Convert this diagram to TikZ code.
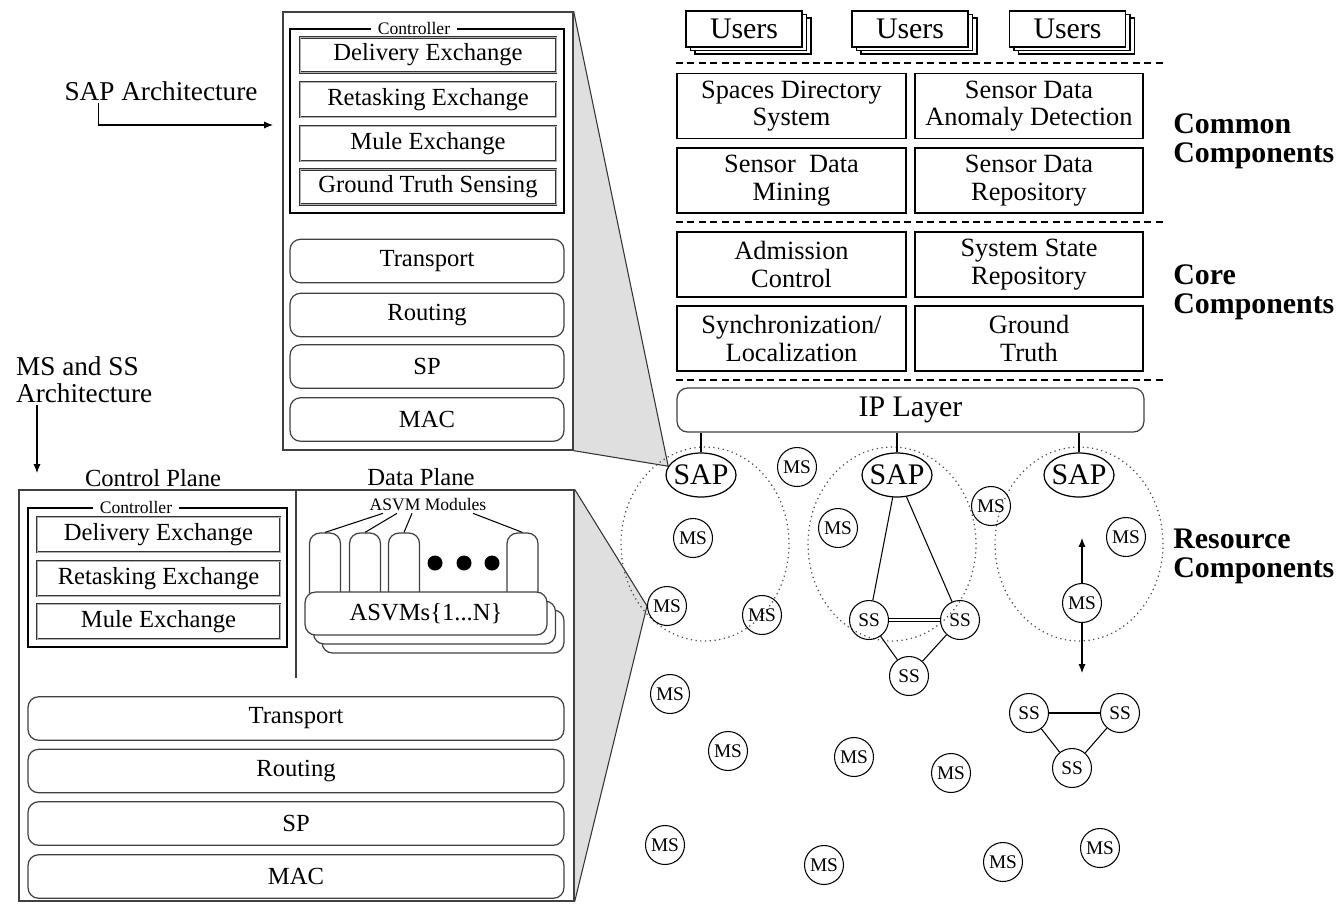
\documentclass[tikz,border=0pt]{standalone}
\usepackage{fontspec}
\setmainfont{Liberation Serif}
\usepackage{tikz}
\usetikzlibrary{shapes.geometric, arrows.meta, shadows, backgrounds, calc}

\begin{document}
\begin{tikzpicture}[x=0.02cm, y=-0.02cm,
    frame/.style={rectangle, draw=black!75, line width=0.8pt},
    ctrl/.style={rectangle, draw=black, line width=0.9pt},
    tag/.style={fill=white, inner xsep=4pt, inner ysep=1pt,
                font=\fontsize{10}{10}\selectfont},
    xbox/.style={rectangle, draw=black!80, line width=0.5pt, double=black!30,
                 double distance=0.5pt, minimum height=0.7cm,
                 font=\fontsize{14}{14}\selectfont},
    layer/.style={rectangle, rounded corners=6pt, draw=black!75, line width=0.7pt,
                  minimum height=0.87cm, font=\fontsize{14}{14}\selectfont},
    module/.style={rectangle, rounded corners=6pt, draw=black!75, line width=0.7pt,
                   fill=white, minimum width=0.62cm, minimum height=1.4cm},
    stack/.style={rectangle, rounded corners=6pt, draw=black!75, line width=0.7pt,
                  fill=white, font=\fontsize{14}{14}\selectfont,
                  copy shadow={shadow xshift=0.34cm, shadow yshift=-0.36cm},
                  copy shadow={shadow xshift=0.17cm, shadow yshift=-0.18cm}},
    lbl/.style={font=\fontsize{15.5}{15.5}\selectfont, inner sep=1pt},
    comp/.style={rectangle, draw=black, line width=0.8pt, minimum height=1.3cm,
                 align=center, font=\fontsize{15}{15.5}\selectfont, inner sep=1pt},
    users/.style={rectangle, draw=black, line width=0.7pt, fill=white,
                  minimum width=2.32cm, minimum height=0.72cm,
                  font=\fontsize{17}{17}\selectfont,
                  copy shadow={shadow xshift=0.18cm, shadow yshift=-0.14cm},
                  copy shadow={shadow xshift=0.09cm, shadow yshift=-0.07cm}},
    grp/.style={anchor=west, align=left, inner sep=0pt,
                font=\fontsize{17}{16.5}\selectfont\bfseries},
    sapn/.style={ellipse, draw=black, line width=0.7pt, minimum width=1.4cm,
                 minimum height=0.88cm, inner xsep=-2pt, inner ysep=0pt,
                 font=\fontsize{17}{17}\selectfont},
    msn/.style={circle, draw=black, line width=0.6pt, minimum size=0.78cm,
                inner sep=0pt, font=\fontsize{11}{11}\selectfont},
    zone/.style={ellipse, draw=black!70, dotted, line width=0.7pt,
                 minimum width=3.36cm, minimum height=3.88cm},
    arr/.style={-{Latex[length=5pt, width=4pt]}, line width=0.6pt},
    wedge/.style={fill=gray!25, draw=black!80, line width=0.6pt}
  ]
  \useasboundingbox (0,0) rectangle (1344,903);

  % SAP architecture stack
  \node[frame, minimum width=5.8cm, minimum height=8.76cm] (sapbox) at (428,231) {};
  \node[ctrl, minimum width=5.48cm, minimum height=3.68cm] (sapctrl) at (427,121) {};
  \node[tag] (sapctrltag) at ([xshift=-0.26cm]sapctrl.north) {Controller};
  \foreach \i/\y/\t in {1/55/Delivery Exchange, 2/99.5/Retasking Exchange,
                        3/143.5/Mule Exchange, 4/187/Ground Truth Sensing} {
    \node[xbox, minimum width=5.12cm] (sapx\i) at (428,\y) {\t};
  }
  \foreach \i/\y/\t in {1/261/Transport, 2/315/Routing, 3/366.5/SP, 4/419.5/MAC} {
    \node[layer, minimum width=5.48cm] (sapl\i) at (427,\y) {\t};
  }
  \node[lbl] (saplbl) at (161,91) {SAP Architecture};
  \coordinate (saptip) at (273,125);
  \draw[arr] ([xshift=0.72cm]saplbl.south west) |- (saptip);

  % MS and SS architecture stack
  \node[lbl, align=left, anchor=west] (mslbl) at (14,380) {MS and SS\\Architecture};
  \coordinate (mstip) at (37,473);
  \draw[arr] (mstip |- mslbl.south) -- (mstip);
  \node[lbl, font=\fontsize{14}{14}\selectfont] (cplbl) at (153,478) {Control Plane};
  \node[lbl, font=\fontsize{14}{14}\selectfont] (dplbl) at (421,477) {Data Plane};
  \node[frame, minimum width=11.1cm, minimum height=8.22cm] (msbox) at (296.5,695.5) {};
  \draw[black!75, line width=0.8pt] (296,490) -- (296,678);
  \node[ctrl, minimum width=5.18cm, minimum height=2.78cm] (msctrl) at (157.5,577.5) {};
  \node[tag] (msctrltag) at ([xshift=-0.43cm]msctrl.north) {Controller};
  \foreach \i/\y/\t in {1/534.5/Delivery Exchange, 2/578.5/Retasking Exchange,
                        3/621.5/Mule Exchange} {
    \node[xbox, minimum width=4.86cm] (msx\i) at (158.5,\y) {\t};
  }
  % Data plane modules
  \foreach \i/\x in {1/325, 2/365, 3/404, 4/522.5} {
    \node[module] (mod\i) at (\x,568) {};
  }
  \node[lbl, font=\fontsize{10}{10}\selectfont] (asvm) at (428,505) {ASVM Modules};
  \foreach \i/\dx in {1/-45, 2/-31, 3/-16, 4/45} {
    \draw[line width=0.6pt] (asvm.south) ++(\dx,0) -- (mod\i.north);
  }
  \foreach \x in {435, 464, 492} {
    \fill (\x,563) circle (0.15cm);
  }
  \node[stack, minimum width=4.84cm, minimum height=0.86cm] (asvms) at (426,613.5) {ASVMs\{1...N\}};
  \foreach \i/\y/\t in {1/718.5/Transport, 2/771/Routing, 3/823.5/SP, 4/876.5/MAC} {
    \node[layer, minimum width=10.72cm] (msl\i) at (296,\y) {\t};
  }

  % Users
  \foreach \i/\x in {1/744, 2/910, 3/1067.5} {
    \node[users] (users\i) at (\x,29) {Users};
  }
  \foreach \y in {63, 222, 380} {
    \draw[dash pattern=on 4pt off 2.5pt, line width=0.6pt] (676,\y) -- (1163,\y);
  }
  % Common components
  \node[comp, minimum width=4.58cm] (sds) at (791.5,106) {Spaces Directory\\System};
  \node[comp, minimum width=4.56cm] (sdad) at (1029,106) {Sensor Data\\Anomaly Detection};
  \node[comp, minimum width=4.58cm] (sdm) at (791.5,180.5) {Sensor~ Data\\Mining};
  \node[comp, minimum width=4.56cm] (sdr) at (1029,180.5) {Sensor Data\\Repository};
  % Core components
  \node[comp, minimum width=4.58cm] (adm) at (791.5,264.5) {Admission\\Control};
  \node[comp, minimum width=4.56cm] (ssr) at (1029,264.5) {System State\\Repository};
  \node[comp, minimum width=4.58cm] (sync) at (791.5,338.5) {Synchronization/\\Localization};
  \node[comp, minimum width=4.56cm] (gt) at (1029,338.5) {Ground\\Truth};
  \node[layer, minimum width=9.34cm, minimum height=0.88cm,
        font=\fontsize{17}{17}\selectfont] (iplayer) at (910.5,410) {IP Layer};
  \node[grp] (common) at (1173,141) {Common\\Components};
  \node[grp] (core) at (1173,292.5) {Core\\Components};
  \node[grp] (resource) at (1173,556.5) {Resource\\Components};

  % Resource components
  \foreach \i/\x in {1/705, 2/892, 3/1079} {
    \node[zone] (zone\i) at (\x,544) {};
  }
  \foreach \i/\x in {1/701, 2/897, 3/1079} {
    \node[sapn] (sap\i) at (\x,475) {SAP};
    \draw[line width=0.6pt] (sap\i) -- (sap\i |- iplayer.south);
  }
  \foreach \i/\x/\y in {1/797/467, 2/693/538, 3/667/606, 4/762/615, 5/838/528,
                        6/991/506, 7/1126/537, 8/1082/603, 9/670/694, 10/728/751,
                        11/854/757, 12/951/773, 13/665/845, 14/824/865,
                        15/1003/862, 16/1100/848} {
    \node[msn] (ms\i) at (\x,\y) {MS};
  }
  \foreach \i/\x/\y in {1/869/620, 2/960/620, 3/909/676, 4/1029/713,
                        5/1120/713, 6/1072/768} {
    \node[msn] (ss\i) at (\x,\y) {SS};
  }
  \draw[line width=0.6pt] (sap2) -- (ss1);
  \draw[line width=0.6pt] (sap2) -- (ss2);
  \draw[line width=0.4pt, double, double distance=1pt] (ss1) -- (ss2);
  \draw[line width=0.6pt] (ss1) -- (ss3);
  \draw[line width=0.6pt] (ss2) -- (ss3);
  \draw[line width=0.6pt] (ss4) -- (ss5);
  \draw[line width=0.6pt] (ss4) -- (ss6);
  \draw[line width=0.6pt] (ss5) -- (ss6);
  \coordinate (uptip) at (1082,538);
  \coordinate (downtip) at (1082,673);
  \draw[arr] (ms8) -- (uptip);
  \draw[arr] (ms8) -- (downtip);

  % Zoom wedges
  \begin{scope}[on background layer]
    \filldraw[wedge] (sapbox.north east) -- (sap1.165) -- (sapbox.south east);
    \filldraw[wedge] (msbox.north east) -- (ms3.west) -- (msbox.south east);
  \end{scope}
\end{tikzpicture}
\end{document}
